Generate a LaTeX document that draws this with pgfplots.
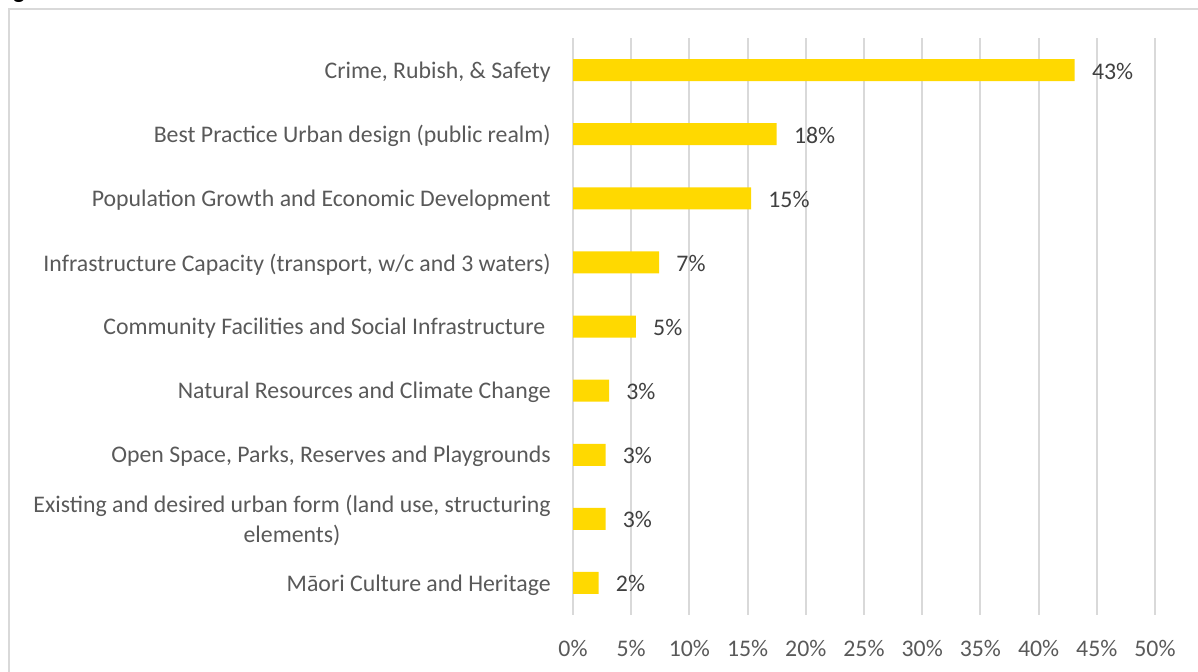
\documentclass[border=0pt]{standalone}
\usepackage{pgfplots}
\pgfplotsset{compat=1.18}
\usepackage{fontspec}
\setmainfont{Carlito}
\definecolor{baryellow}{RGB}{255,217,0}
\definecolor{gridgray}{RGB}{217,217,217}
\definecolor{labelgray}{RGB}{89,89,89}
\definecolor{valgray}{RGB}{64,64,64}
\begin{document}
\fontsize{11.9}{15}\selectfont
\begin{tikzpicture}
% chart frame (runs off the right and bottom edge)
\draw[gridgray, line width=1pt] (4.5pt,-4.5pt) rectangle (640pt,-400pt);
\node[anchor=base west, inner sep=0pt, font=\bfseries] at (6.5pt,0.8pt) {g};
\begin{axis}[
	at={(286.5pt,-307.5pt)}, anchor=south west,
	scale only axis, width=291pt, height=288.5pt,
	xbar, bar width=11pt,
	xmin=0, xmax=50, ymin=-0.5, ymax=8.5,
	y dir=reverse,
	xtick={0,5,...,50},
	xticklabels={0\%,5\%,10\%,15\%,20\%,25\%,30\%,35\%,40\%,45\%,50\%},
	ytick={0,...,8},
	yticklabels={
		{Crime, Rubish, \& Safety},
		{Best Practice Urban design (public realm)},
		{Population Growth and Economic Development},
		{Infrastructure Capacity (transport, w/c and 3 waters)},
		{Community Facilities and Social Infrastructure\ },
		{Natural Resources and Climate Change},
		{Open Space, Parks, Reserves and Playgrounds},
		{Existing and desired urban form (land use, structuring\\elements)},
		{Māori Culture and Heritage}},
	yticklabel style={align=center, text=labelgray, xshift=-7pt, yshift=-1pt},
	xticklabel style={text=labelgray, yshift=-8.5pt},
	axis line style={draw=none},
	major tick length=0pt,
	xmajorgrids,
	grid style={gridgray, line width=1pt},
	nodes near coords,
	point meta=explicit symbolic,
	every node near coord/.append style={anchor=west, xshift=4.5pt, yshift=-0.5pt, text=valgray},
	]
	\addplot[fill=baryellow, draw=none] coordinates {
		(43.1,0) [43\%]
		(17.5,1) [18\%]
		(15.3,2) [15\%]
		(7.4,3)  [7\%]
		(5.4,4)  [5\%]
		(3.1,5)  [3\%]
		(2.8,6)  [3\%]
		(2.8,7)  [3\%]
		(2.2,8)  [2\%]
	};
\end{axis}
\pgfresetboundingbox
\path[use as bounding box] (0,0) rectangle (599pt,-335.5pt);
\end{tikzpicture}
\end{document}
